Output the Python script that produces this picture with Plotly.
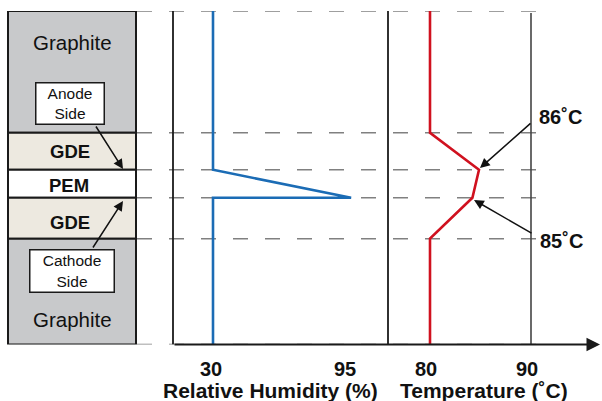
import plotly.graph_objects as go

W, H = 602, 401

# ---- data ----
layer_names = ["Graphite", "GDE", "PEM", "GDE", "Graphite"]
layer_bounds = [0, 122, 159, 187, 228, 334]          # depth positions of layer boundaries
layer_colors = ["#c8c9cb", "#ede9e0", "#ffffff", "#ede9e0", "#c8c9cb"]

rh_depth = [0, 159, 187, 187, 334]
rh_values = [30, 30, 97, 30, 30]

temp_depth = [0, 122, 159, 187, 228, 334]
temp_values = [80, 80, 84.85, 84.2, 80, 80]

rh_ticks = [30, 95]
temp_ticks = [80, 90]
temp_notes = ["86˚C", "85˚C"]


def X(px):
    return px / W


def Y(py):
    return 1 - py / H


FONT = "Liberation Sans, Arial, sans-serif"
BLUE = "#1b6cb5"
RED = "#d0111f"

fig = go.Figure()
fig.add_trace(go.Scatter(x=rh_values, y=rh_depth, mode="lines",
                         line=dict(color=BLUE, width=2.6), xaxis="x", yaxis="y",
                         hoverinfo="skip", showlegend=False))
fig.add_trace(go.Scatter(x=temp_values, y=temp_depth, mode="lines",
                         line=dict(color=RED, width=2.6), xaxis="x2", yaxis="y",
                         hoverinfo="skip", showlegend=False))

shapes = []
# layer stack
for i, name in enumerate(layer_names):
    shapes.append(dict(type="rect", xref="paper", yref="y", layer="below",
                       x0=X(8), x1=X(136), y0=layer_bounds[i], y1=layer_bounds[i + 1],
                       fillcolor=layer_colors[i], line=dict(color="#1a1a1a", width=2)))
# dashed boundary lines
for b in layer_bounds:
    shapes.append(dict(type="line", xref="paper", yref="y", layer="below",
                       x0=X(137), x1=X(541), y0=b, y1=b,
                       line=dict(color="#808080", width=1.5, dash="15px,17px")))
# panel vertical lines
for xv in (X(173), X(388)):
    shapes.append(dict(type="line", xref="paper", yref="y", x0=xv, x1=xv,
                       y0=layer_bounds[0], y1=layer_bounds[-1],
                       line=dict(color="#1a1a1a", width=1.8)))
shapes.append(dict(type="line", xref="x2", yref="y", x0=temp_ticks[1], x1=temp_ticks[1],
                   y0=2, y1=layer_bounds[-1], line=dict(color="#444444", width=1.6)))

annotations = []


def ann(**kw):
    base = dict(xref="paper", yref="paper", xanchor="center", yanchor="middle")
    base.update(kw)
    annotations.append(base)


# horizontal axis with arrow
ann(x=X(600), y=Y(344.5), text="", showarrow=True, ax=-(600 - 173), ay=0, arrowhead=2,
    arrowsize=1.5, arrowwidth=1.8, arrowcolor="#1a1a1a", standoff=0)

# layer labels
label_pos = [(72, 42, False), (69.5, 151, True), (69, 185, True), (69.5, 222, True), (72, 319, False)]
for name, (lx, ly, bold) in zip(layer_names, label_pos):
    ann(x=X(lx), y=Y(ly), text=f"<b>{name}</b>" if bold else name, showarrow=False,
        font=dict(family=FONT, size=18.5 if bold else 20.5, color="#111111"))

# side boxes
ann(x=X(69.5), y=Y(103.5), text="Anode<br>Side", showarrow=False, bgcolor="white",
    bordercolor="#1a1a1a", borderwidth=1.5, borderpad=0, width=67, height=40,
    font=dict(family=FONT, size=15.5, color="#111111"))
ann(x=X(71.5), y=Y(271), text="Cathode<br>Side", showarrow=False, bgcolor="white",
    bordercolor="#1a1a1a", borderwidth=1.5, borderpad=0, width=83, height=41,
    font=dict(family=FONT, size=15.5, color="#111111"))
# pointer arrows
for hx, hy, axo, ayo in [(123, 169, -28, -44), (123, 201, -31, 48),
                         (480, 168, 52, -46), (474, 200, 59, 34)]:
    ann(x=X(hx), y=Y(hy), text="", showarrow=True, ax=axo, ay=ayo, arrowhead=2,
        arrowsize=1.3, arrowwidth=1.5, arrowcolor="#111111", standoff=0)
# temperature notes
for note, (tx, ty) in zip(temp_notes, [(560, 117), (561, 241)]):
    ann(x=X(tx), y=Y(ty), text=f"<b>{note}</b>", showarrow=False,
        font=dict(family=FONT, size=20, color="#111111"))
# axis titles
ann(x=X(270), y=Y(390), text="<b>Relative Humidity (%)</b>", showarrow=False,
    font=dict(family=FONT, size=21, color="#111111"))
ann(x=X(484), y=Y(390), text="<b>Temperature (˚C)</b>", showarrow=False,
    font=dict(family=FONT, size=21, color="#111111"))

px_rh = (347 - 213) / (rh_ticks[1] - rh_ticks[0])
px_t = (531 - 430) / (temp_ticks[1] - temp_ticks[0])

fig.update_layout(
    width=W, height=H, margin=dict(l=0, r=0, t=0, b=0),
    paper_bgcolor="white", plot_bgcolor="rgba(0,0,0,0)",
    showlegend=False, shapes=shapes, annotations=annotations,
    xaxis=dict(domain=[X(173), X(388)],
               range=[rh_ticks[0] - (213 - 173) / px_rh, rh_ticks[0] + (388 - 213) / px_rh],
               tickvals=rh_ticks, ticktext=[f"<b>{t}</b>" for t in rh_ticks],
               showgrid=False, zeroline=False, showline=False, ticks="",
               ticklabelstandoff=10, ticklabelshift=-2,
               tickfont=dict(family=FONT, size=20, color="#111111"), fixedrange=True),
    xaxis2=dict(domain=[X(388), 1], anchor="y",
                range=[temp_ticks[0] - (430 - 388) / px_t, temp_ticks[0] + (602 - 430) / px_t],
                tickvals=temp_ticks, ticktext=[f"<b>{t}</b>" for t in temp_ticks],
                showgrid=False, zeroline=False, showline=False, ticks="",
                ticklabelstandoff=10, ticklabelshift=-4,
                tickfont=dict(family=FONT, size=20, color="#111111"), fixedrange=True),
    yaxis=dict(domain=[Y(344.5), Y(11)], range=[layer_bounds[-1], layer_bounds[0]],
               visible=False, fixedrange=True),
)

fig.write_html("out.html", config={"displayModeBar": False})
